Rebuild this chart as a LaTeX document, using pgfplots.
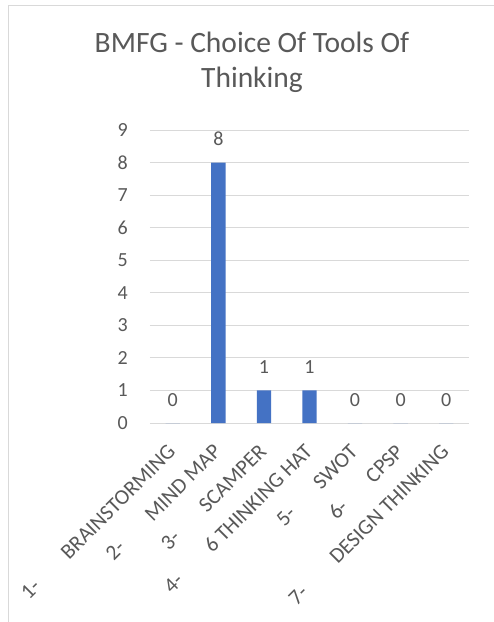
\documentclass[border=0pt]{standalone}
\usepackage{fontspec}
\setmainfont{Carlito}
\usepackage{pgfplots}
\pgfplotsset{compat=1.18}
\definecolor{txt}{HTML}{595959}
\definecolor{grd}{HTML}{D9D9D9}
\definecolor{barc}{HTML}{4472C4}
\newcommand{\lab}[3]{\makebox[0pt]{#1}\hspace{#2}\llap{#3}}
\begin{document}
\begin{tikzpicture}[x=1pt,y=1pt]
\path[use as bounding box] (0,0) rectangle (494,622);
\fill[white] (0,0) rectangle (494,622);
\draw[grd, line width=1pt] (8.5,0) -- (8.5,616) -- (494,616);
\node[anchor=base, text=txt, font=\fontsize{29.5}{35}\selectfont] at (252,569) {BMFG - Choice Of Tools Of};
\node[anchor=base, text=txt, font=\fontsize{29.5}{35}\selectfont] at (252,534) {Thinking};
\begin{axis}[at={(150pt,199pt)}, anchor=south west, scale only axis,
  width=319pt, height=293pt,
  xmin=0.5, xmax=7.5, ymin=0, ymax=9,
  xtick={1,...,7}, ytick={0,...,9},
  xticklabels={\lab{1-}{199.7pt}{BRAINSTORMING},\lab{2-}{144.4pt}{MIND MAP},\lab{3-}{130.7pt}{SCAMPER},\lab{4-}{191pt}{6 THINKING HAT},\lab{5-}{96.1pt}{SWOT},\lab{6-}{87.1pt}{CPSP},\lab{7-}{207.8pt}{DESIGN THINKING}},
  axis line style={draw=none}, major tick length=0pt,
  ymajorgrids, grid style={grd, line width=1pt},
  tick label style={font=\fontsize{20}{24}\selectfont, text=txt},
  /pgf/number format/assume math mode=true,
  yticklabel style={anchor=east, inner sep=0pt, xshift=-22pt},
  xticklabel style={font=\fontsize{21.5}{24}\selectfont, yshift=-25pt, xshift=-1pt, rotate=45, anchor=east, inner sep=0pt},
  nodes near coords,
  nodes near coords style={font=\fontsize{20}{24}\selectfont, text=txt, anchor=base, inner sep=0pt, yshift=17pt},
  ybar, bar width=14.3pt, clip=false]
\addplot[fill=barc, draw=none] coordinates {(1,0) (2,8) (3,1) (4,1) (5,0) (6,0) (7,0)};
\end{axis}
\end{tikzpicture}
\end{document}
